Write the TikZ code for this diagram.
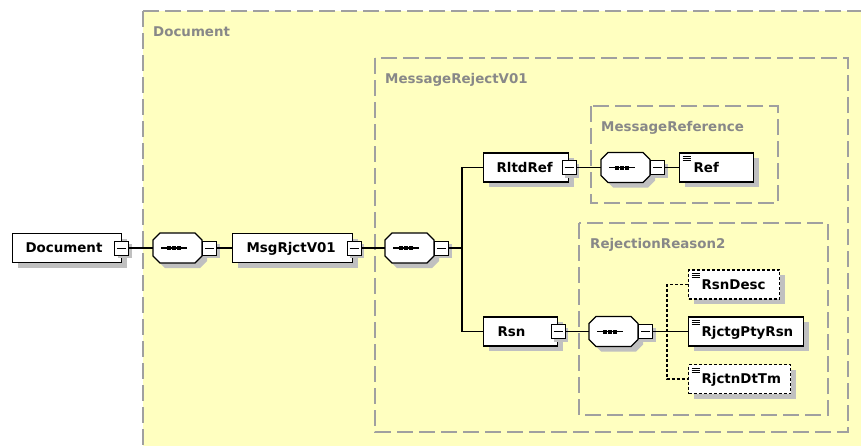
\documentclass[tikz,border=0pt]{standalone}
\usepackage{fontspec}
\setmainfont{DejaVu Sans}
\usetikzlibrary{shadows}
\definecolor{bgyellow}{RGB}{255,255,192}
\definecolor{grpline}{RGB}{160,160,160}
\definecolor{grptext}{RGB}{136,136,136}
\definecolor{shadowc}{RGB}{192,192,192}
\tikzset{
  x=1pt, y=-1pt,
  lblfont/.style={font=\fontsize{13.4}{16}\selectfont\bfseries},
  elem/.style={draw=black, line width=1.2pt, fill=white, rectangle, inner sep=0pt,
    minimum height=29pt, text height=9.7pt, text depth=0pt, anchor=west, lblfont,
    drop shadow={shadow xshift=5pt,shadow yshift=-5pt,fill=shadowc,opacity=1}},
  leaf/.style={path picture={
      \foreach \yy in {3.4,5.4,7.4}
        \draw[solid, line width=0.8pt] ([shift={(3,\yy)}]path picture bounding box.north west) -- ++(8,0);}},
  optional/.style={dash pattern=on 3pt off 2pt},
  minusbox/.style={draw=black, solid, line width=1pt, fill=white, minimum width=14pt, minimum height=14pt,
    inner sep=0pt,
    path picture={\draw[solid, line width=1pt] ([xshift=2.5pt]path picture bounding box.west) -- ([xshift=-2.5pt]path picture bounding box.east);},
    drop shadow={shadow xshift=3pt,shadow yshift=-3pt,fill=shadowc,opacity=1}},
  conn/.style={line width=1.2pt, draw=black},
  grp/.style={draw=grpline, line width=1.2pt, dash pattern=on 16pt off 6pt},
  grplabel/.style={anchor=base west, inner sep=0pt, text=grptext, lblfont},
  seqpic/.pic={
    \fill[shadowc] (12,-10) -- (47,-10) -- (54,-3) -- (54,13) -- (47,20) -- (12,20) -- (5,13) -- (5,-3) -- cycle;
    \draw[line width=1.2pt, fill=white] (7,-15) -- (42,-15) -- (49,-8) -- (49,8) -- (42,15) -- (7,15) -- (0,8) -- (0,-8) -- cycle;
    \draw[line width=1.2pt] (8,0) -- (34,0);
    \foreach \dx in {16,21,26} \fill (\dx-2,-2) rectangle (\dx+2,2);
    \node[minusbox] (-m) at (56.5,0) {};
    \coordinate (-in) at (0,0);
    \coordinate (-out) at (64,0);
  }
}
\begin{document}
\begin{tikzpicture}
\useasboundingbox (0,0) rectangle (861,445);
\clip (0,0) rectangle (861,445);
\fill[white] (0,0) rectangle (861,445);

% groups
\path[grp, fill=bgyellow] (143,11) rectangle (880,470);
\node[grplabel] (lbl-doc) at (153,36) {Document};
\path[grp] (375,58) rectangle (848,432);
\node[grplabel] (lbl-mr) at (385,83) {MessageRejectV01};
\path[grp] (591,106) rectangle (778,203);
\node[grplabel] (lbl-mref) at (601,131) {MessageReference};
\path[grp] (579,223) rectangle (828,415);
\node[grplabel] (lbl-rr) at (590,248) {RejectionReason2};

% elements
\node[elem] (doc) at (12,248) {\makebox[109pt][l]{\hspace{13pt}Document}};
\node[minusbox] (doc-m) at ([xshift=-0.5pt]doc.east) {};
\pic (s1) at (153,248) {seqpic};

\node[elem] (msg) at (232,248) {\makebox[120pt][l]{\hspace{14pt}MsgRjctV01}};
\node[minusbox] (msg-m) at ([xshift=1pt]msg.east) {};
\pic (s2) at (385,248) {seqpic};
\coordinate (b1) at (462,248);

\node[elem] (rltd) at (483,167.5) {\makebox[85pt][l]{\hspace{13pt}RltdRef}};
\node[minusbox] (rltd-m) at (rltd.east) {};
\pic (s3) at (601,167.5) {seqpic};
\node[elem, leaf] (ref) at (679,167.5) {\makebox[74pt][l]{\hspace{14pt}Ref}};

\node[elem] (rsn) at (483,331.5) {\makebox[74pt][l]{\hspace{14pt}Rsn}};
\node[minusbox] (rsn-m) at (rsn.east) {};
\pic (s4) at (589,331.5) {seqpic};
\coordinate (b2) at (667,331.5);

\node[elem, leaf, optional] (rsndesc) at (688,284.5) {\makebox[91pt][l]{\hspace{13pt}RsnDesc}};
\node[elem, leaf] (rjctg) at (688,331.5) {\makebox[115pt][l]{\hspace{13pt}RjctgPtyRsn}};
\node[elem, leaf, optional] (rjctn) at (688,379) {\makebox[102pt][l]{\hspace{13pt}RjctnDtTm}};

% connectors
\draw[conn] (doc-m) -- (s1-in);
\draw[conn] (s1-out) -- (msg.west);
\draw[conn] (msg-m) -- (s2-in);
\draw[conn] (s2-out) -- (b1);
\draw[conn] (rltd.west) -| (b1);
\draw[conn] (rsn.west) -| (b1);
\draw[conn] (rltd-m) -- (s3-in);
\draw[conn] (s3-out) -- (ref.west);
\draw[conn] (rsn-m) -- (s4-in);
\draw[conn] (s4-out) -- (rjctg.west);
\draw[conn, optional] (rsndesc.west) -| (b2) |- (rjctn.west);
\end{tikzpicture}
\end{document}
